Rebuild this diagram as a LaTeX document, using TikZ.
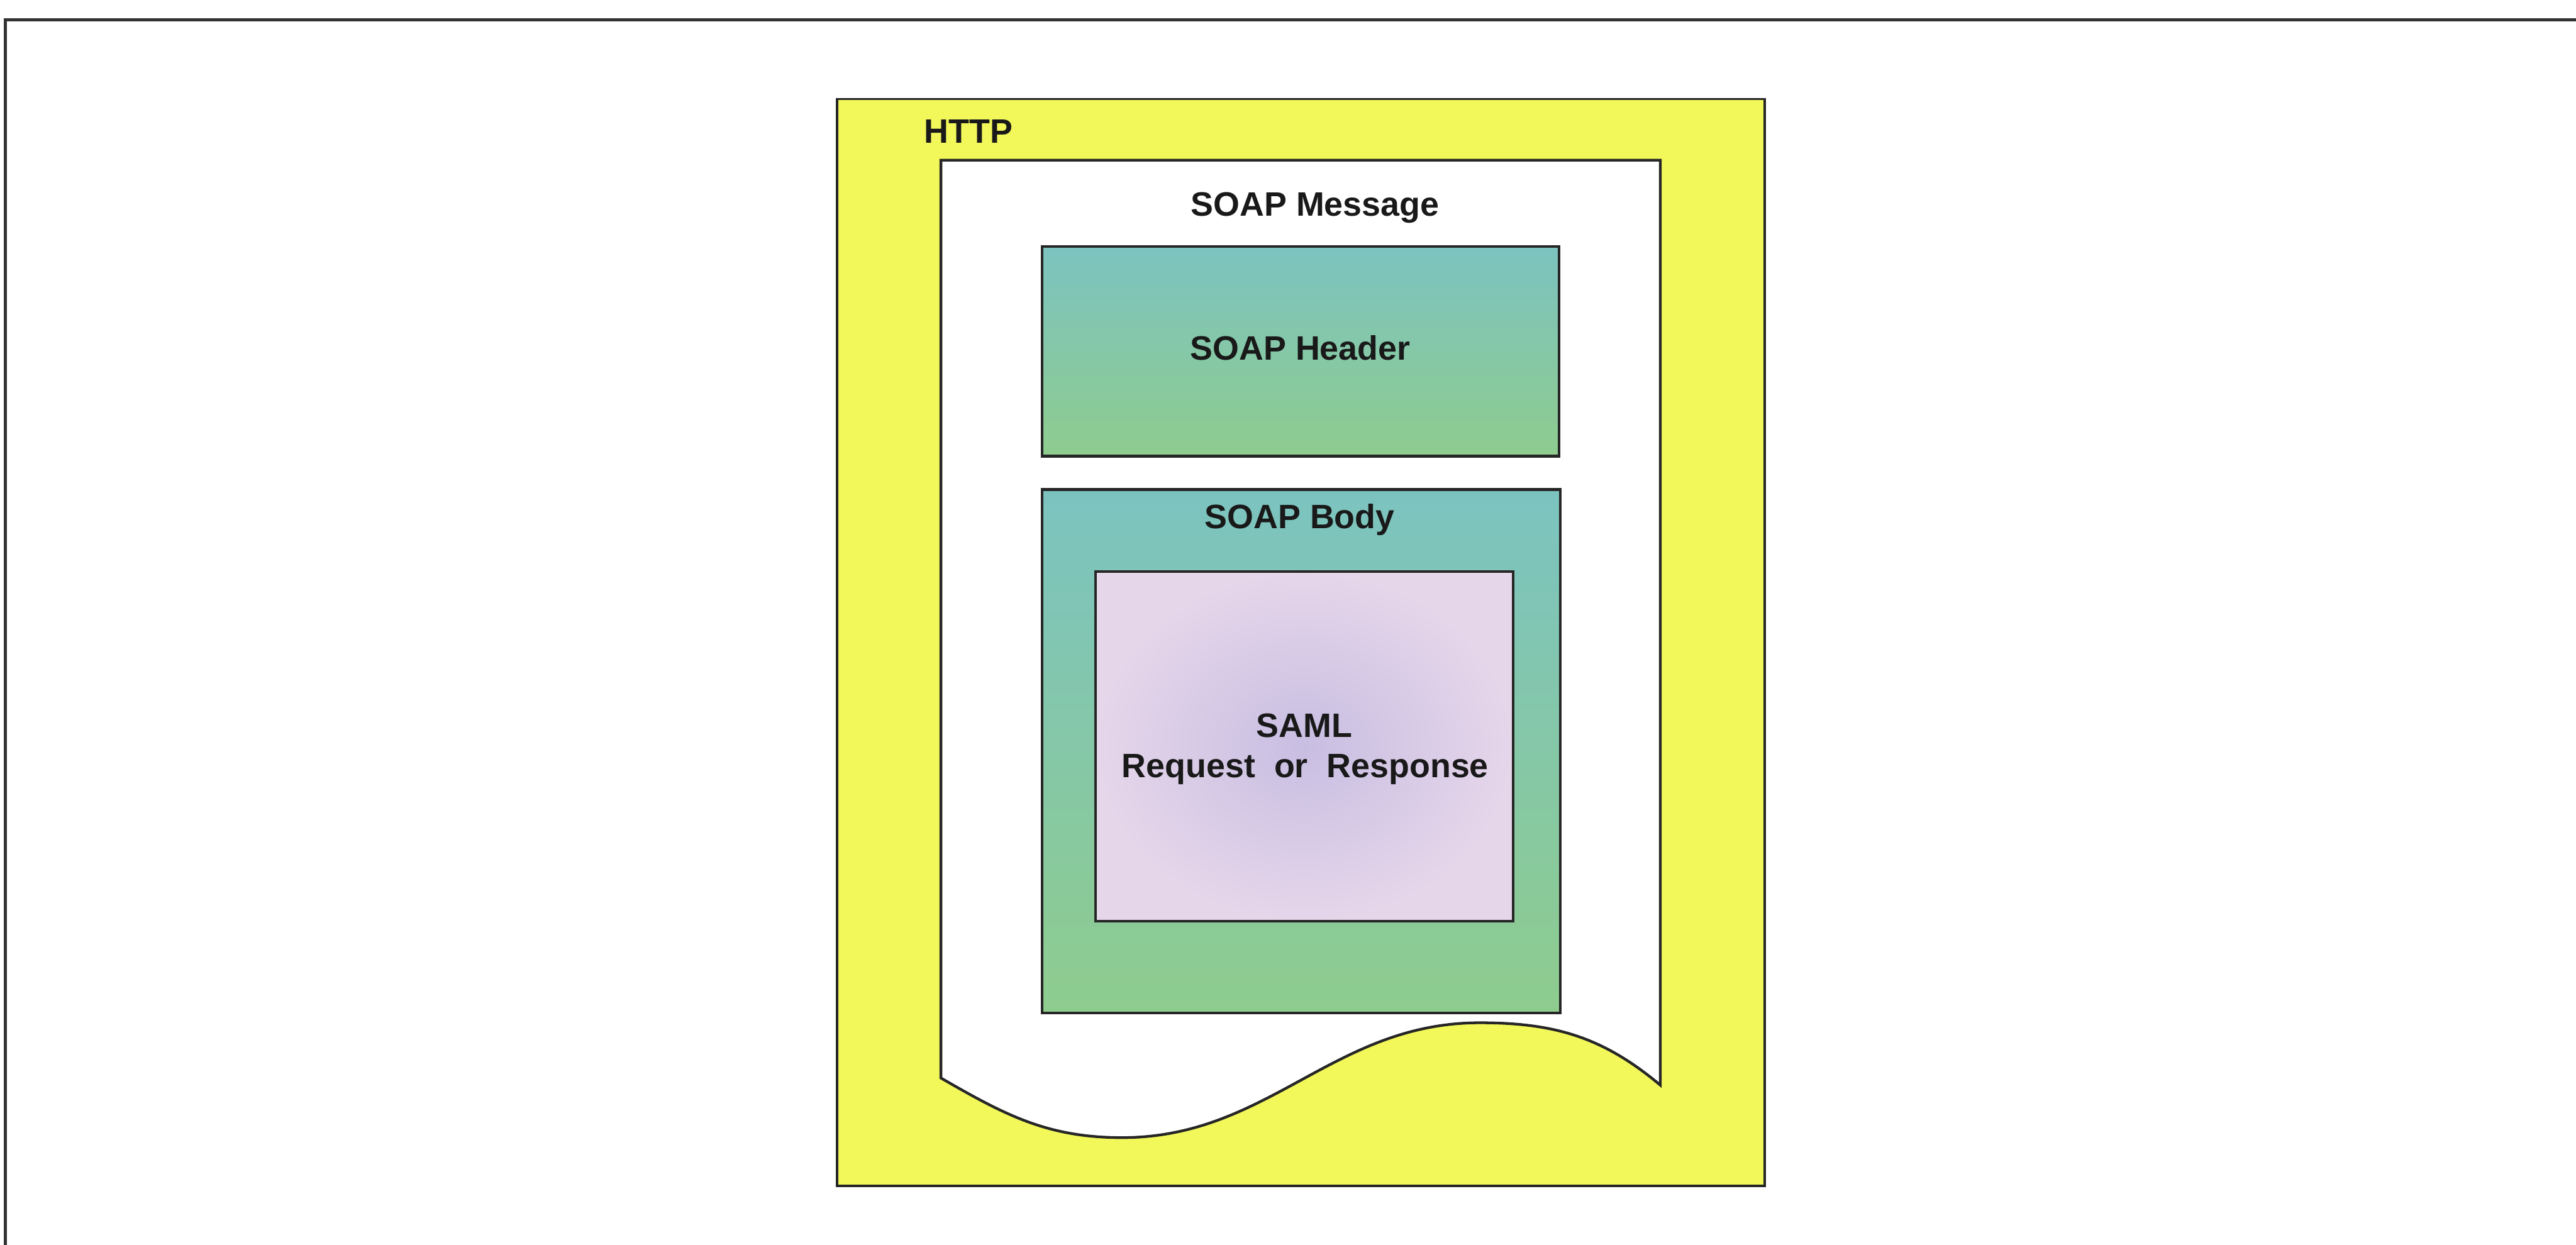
\documentclass[tikz,border=0pt]{standalone}
\usepackage{fontspec}
\setsansfont{Liberation Sans}
\usetikzlibrary{positioning}

\definecolor{httpyellow}{RGB}{242,247,90}
\definecolor{soapteal}{RGB}{124,195,192}
\definecolor{soapgreen}{RGB}{142,204,142}
\definecolor{samllilac}{RGB}{200,190,226}
\definecolor{samlpink}{RGB}{230,214,234}

\tikzset{
    lbl/.style={font=\fontsize{17.6}{21}\selectfont\sffamily\bfseries, inner sep=0pt, text=black!90},
    boxline/.style={draw=black!85, line width=1.4pt}
}

\begin{document}
\begin{tikzpicture}
    % Page
    \useasboundingbox (0,0) rectangle (47.09,22.76);
    \fill[white] (0,0) rectangle (47.09,22.76);

    % Outer frame (top and left edge only)
    \draw[line width=1.6pt, black!80] (0.1,0) -- (0.1,22.4) -- (47.09,22.4);

    % HTTP envelope
    \draw[boxline, fill=httpyellow, line width=1.2pt] (15.30,1.08) rectangle (32.26,20.95);
    \node[lbl, anchor=base west] (http) at (16.89,20.14) {HTTP};

    % SOAP message sheet with wavy bottom
    \draw[boxline, fill=white] (17.20,3.05) -- (17.20,19.83) -- (30.35,19.83) -- (30.35,2.92)
        to[out=140,in=0] (27.05,4.06) to[out=180,in=0] (20.51,1.96) to[out=180,in=-30] cycle;
    \node[lbl, anchor=base] (msg) at (24.04,18.81) {SOAP Message};

    % SOAP header
    \shade[top color=soapteal, bottom color=soapgreen] (19.05,14.42) rectangle (28.50,18.25);
    \draw[boxline] (19.05,14.42) rectangle (28.50,18.25);
    \node[lbl, anchor=base] (header) at (23.77,16.18) {SOAP Header};

    % SOAP body
    \shade[top color=soapteal, bottom color=soapgreen] (19.05,4.24) rectangle (28.52,13.81);
    \draw[boxline] (19.05,4.24) rectangle (28.52,13.81);
    \node[lbl, anchor=base] (body) at (23.76,13.10) {SOAP Body};

    % SAML payload
    \shade[inner color=samllilac, outer color=samlpink] (20.03,5.92) rectangle (27.66,12.31);
    \draw[boxline] (20.03,5.92) rectangle (27.66,12.31);
    \node[lbl, anchor=base] (saml) at (23.84,9.28) {SAML};
    \node[lbl, anchor=base] (samlmsg) at (23.86,8.54) {Request\ \ or\ \ Response};
\end{tikzpicture}
\end{document}
